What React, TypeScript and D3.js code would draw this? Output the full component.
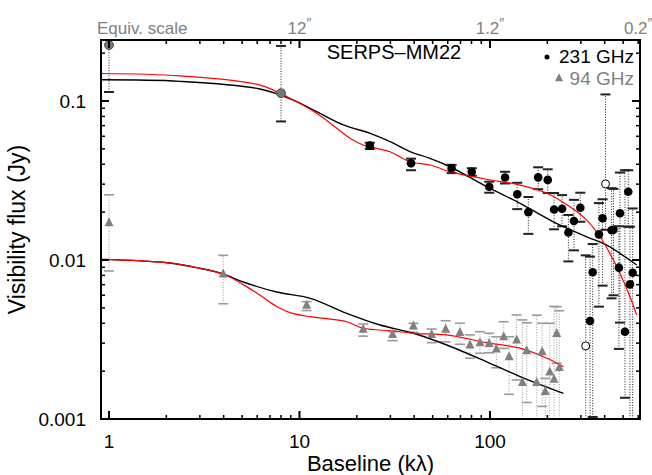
import React from "react";
import * as d3 from "d3";

const W = 652, H = 475;
const L = 101, R = 640, T = 40, B = 419;

// baseline (kλ), flux (Jy), lower, upper
const pts231: number[][] = [
  [23.4, 0.0524, 0.0499, 0.0547],
  [38.5, 0.0406, 0.0367, 0.0434],
  [62.9, 0.0378, 0.0352, 0.0397],
  [80.2, 0.0359, 0.0339, 0.0378],
  [99.1, 0.0289, 0.0265, 0.0311],
  [120, 0.0330, 0.0303, 0.0359],
  [139, 0.0259, 0.0209, 0.0306],
  [159, 0.0200, 0.0146, 0.0249],
  [179, 0.0331, 0.0279, 0.0383],
  [201, 0.0319, 0.0264, 0.0372],
  [217, 0.0208, 0.0156, 0.0264],
  [239, 0.0210, 0.0163, 0.0256],
  [258, 0.0149, 0.0098, 0.0192],
  [276, 0.0176, 0.0115, 0.0239],
  [298, 0.0213, 0.0174, 0.0265],
  [335, 0.00413, 0.0008, 0.0105],
  [346, 0.00837, 0.00103, 0.0126],
  [373, 0.0145, 0.00509, 0.0228],
  [390, 0.0183, 0.0069, 0.0241],
  [435, 0.0154, 0.00574, 0.0283],
  [445, 0.0155, 0.0060, 0.0280],
  [475, 0.00895, 0.00276, 0.0163],
  [481, 0.0197, 0.00404, 0.0355],
  [511, 0.00354, 0.00136, 0.0367],
  [532, 0.0269, 0.0162, 0.0367],
  [543, 0.00703, 0.0008, 0.0162],
  [561, 0.00832, 0.0008, 0.0211],
];
const open231: number[][] = [
  [318, 0.00288, 0.0008, 0.0107],
  [404, 0.0301, 0.0155, 0.110],
];
const short231: number[][] = [
  [1.0, 0.225, 0.114, 0.40],
  [8.0, 0.112, 0.0744, 0.222],
];
const pts94: number[][] = [
  [1.0, 0.0172, 0.00853, 0.0257],
  [3.98, 0.00817, 0.00531, 0.0107],
  [10.9, 0.00521, 0.00481, 0.00547],
  [21.6, 0.00367, 0.00332, 0.00396],
  [30.8, 0.00341, 0.00311, 0.00354],
  [39.6, 0.00385, 0.00351, 0.00400],
  [49.4, 0.00341, 0.00302, 0.00368],
  [58.5, 0.00368, 0.00306, 0.00415],
  [69.5, 0.00351, 0.00295, 0.00400],
  [78.5, 0.00292, 0.00241, 0.00338],
  [88.6, 0.00302, 0.00259, 0.00354],
  [99, 0.00299, 0.00261, 0.00346],
  [108, 0.00276, 0.00210, 0.00329],
  [118, 0.00330, 0.00278, 0.00409],
  [126, 0.00247, 0.00143, 0.00329],
  [138, 0.00314, 0.00176, 0.00451],
  [148, 0.00170, 0.0008, 0.00420],
  [156, 0.00269, 0.00127, 0.00403],
  [176, 0.00170, 0.0008, 0.00450],
  [188, 0.00265, 0.0012, 0.00400],
  [195, 0.00149, 0.0008, 0.00180],
  [206, 0.00198, 0.0008, 0.00400],
  [217, 0.00178, 0.0008, 0.00510],
  [224, 0.00346, 0.00224, 0.00509],
  [231, 0.00211, 0.0008, 0.00480],
];

// model curves
const modelBlack231: number[][] = [
  [0.908, 0.136], [2.36, 0.133], [6.2, 0.119], [9.28, 0.1014], [12.3, 0.0857],
  [17.0, 0.0707], [23.5, 0.0626], [29.9, 0.0555], [38.0, 0.0480], [48.4, 0.0436],
  [61.7, 0.0386], [96.1, 0.0289], [144, 0.0227], [215, 0.0174], [322, 0.0140],
  [410, 0.0124], [589, 0.0093],
];
const modelRed231: number[][] = [
  [0.908, 0.149], [2.36, 0.144], [6.2, 0.126], [9.28, 0.1014], [12.3, 0.0837],
  [15.7, 0.0674], [18.4, 0.0583], [21.6, 0.0529], [25.4, 0.0504], [29.9, 0.0480],
  [38.0, 0.0415], [48.4, 0.0396], [61.7, 0.0359], [69.6, 0.0347], [96.1, 0.0322],
  [144, 0.0296], [199, 0.0263], [263, 0.0216], [322, 0.0178], [378, 0.0140],
  [426, 0.0110], [481, 0.00825], [543, 0.00588], [589, 0.00451],
];
const modelBlack94: number[][] = [
  [0.905, 0.0101], [2.01, 0.00962], [3.0, 0.00887], [3.98, 0.00817], [5.07, 0.00727],
  [7.59, 0.00629], [11.4, 0.00574], [17.7, 0.00462], [26.5, 0.00390], [39.6, 0.00346],
  [59.3, 0.00292], [96.1, 0.00229], [144, 0.00185], [243, 0.00145],
];
const modelRed94: number[][] = [
  [0.905, 0.0101], [2.01, 0.00962], [3.0, 0.00887], [3.98, 0.00817], [5.07, 0.0070],
  [6.21, 0.0060], [7.59, 0.0051], [9.0, 0.00465], [11.4, 0.00440], [14.5, 0.00425],
  [17.7, 0.00409], [21.6, 0.00372], [31.1, 0.00358], [39.6, 0.00346], [59.3, 0.00338],
  [96.1, 0.00302], [144, 0.00279], [199, 0.00241], [243, 0.00213],
];

const xMajor = [1, 10, 100];
const xTickLabels = ["1", "10", "100"];
const yMajor = [0.001, 0.01, 0.1];
const yTickLabels = ["0.001", "0.01", "0.1"];
const topScaleAt = [10, 100, 600];
const topScaleLabels = ["12", "1.2", "0.2"];

const GRAY = "#808080";
const FONT = "'Liberation Sans', Arial, sans-serif";

export default function App() {
  const x = d3.scaleLog().domain([0.908, 613]).range([L, R]);
  const y = d3.scaleLog().domain([0.001, 0.242]).range([B, T]);

  const xMinor: number[] = [];
  for (const d of [1, 10, 100]) for (let k = 2; k <= 9; k++) { const v = d * k; if (v < 613) xMinor.push(v); }
  const yMinor: number[] = [];
  for (const d of [0.001, 0.01, 0.1]) for (let k = 2; k <= 9; k++) { const v = d * k; if (v < 0.242) yMinor.push(v); }

  const line = d3.line<number[]>().x(d => x(d[0])).y(d => y(d[1])).curve(d3.curveCatmullRom.alpha(0.5));

  const errBar = (d: number[], color: string, key: string, capW: number, capStroke: number) => {
    const cx = x(d[0]);
    const yl = y(Math.max(d[2], 0.0005));
    const yh = y(d[3]);
    return (
      <g key={key}>
        <line x1={cx} x2={cx} y1={yl} y2={yh} stroke={color} strokeWidth={1} strokeDasharray="1,1.6" />
        {d[2] >= 0.001 && <line x1={cx - capW / 2} x2={cx + capW / 2} y1={yl} y2={yl} stroke={color} strokeWidth={capStroke} />}
        {d[3] <= 0.242 && <line x1={cx - capW / 2} x2={cx + capW / 2} y1={yh} y2={yh} stroke={color} strokeWidth={capStroke} />}
      </g>
    );
  };

  const tri = (cx: number, cy: number, s: number) =>
    `M${cx},${cy - s * 0.6} L${cx + s / 2},${cy + s * 0.4} L${cx - s / 2},${cy + s * 0.4} Z`;

  return (
    <svg width={W} height={H} style={{ position: "absolute", left: 0, top: 0, background: "#fff" }} fontFamily={FONT}>
      <defs>
        <clipPath id="plotclip"><rect x={L} y={T} width={R - L} height={B - T} /></clipPath>
      </defs>
      <rect x={0} y={0} width={W} height={H} fill="#fff" />

      <g clipPath="url(#plotclip)">
        {pts94.map((d, i) => errBar(d, "#9a9a9a", "e94" + i, 10, 1.6))}
        {pts231.map((d, i) => errBar(d, "#222", "e231" + i, 10, 2))}
        {open231.map((d, i) => errBar(d, "#222", "eo" + i, 10, 2))}
        {short231.map((d, i) => errBar(d, "#222", "es" + i, 10, 2))}

        <path d={line(modelBlack231) || ""} fill="none" stroke="#000" strokeWidth={1.4} />
        <path d={line(modelRed231) || ""} fill="none" stroke="#ff0000" strokeWidth={1.2} />
        <path d={line(modelBlack94) || ""} fill="none" stroke="#000" strokeWidth={1.4} />
        <path d={line(modelRed94) || ""} fill="none" stroke="#ff0000" strokeWidth={1.2} />

        {pts94.map((d, i) => <path key={"t" + i} d={tri(x(d[0]), y(d[1]), 9)} fill={GRAY} />)}
        {pts231.map((d, i) => <circle key={"c" + i} cx={x(d[0])} cy={y(d[1])} r={4.3} fill="#000" />)}
        {open231.map((d, i) => <circle key={"o" + i} cx={x(d[0])} cy={y(d[1])} r={4} fill="#fff" stroke="#000" strokeWidth={1} />)}
        {short231.map((d, i) => <circle key={"s" + i} cx={x(d[0])} cy={y(d[1])} r={4.5} fill="#777" stroke="#555" strokeWidth={1} />)}
      </g>

      {/* frame */}
      <rect x={L} y={T} width={R - L} height={B - T} fill="none" stroke="#000" strokeWidth={2} />
      {xMajor.map(v => (
        <g key={"xm" + v}>
          <line x1={x(v)} x2={x(v)} y1={B} y2={B - 8} stroke="#000" strokeWidth={2} />
          <line x1={x(v)} x2={x(v)} y1={T} y2={T + 8} stroke="#000" strokeWidth={2} />
        </g>
      ))}
      {xMinor.map(v => (
        <g key={"xn" + v}>
          <line x1={x(v)} x2={x(v)} y1={B} y2={B - 4} stroke="#000" strokeWidth={1.5} />
          <line x1={x(v)} x2={x(v)} y1={T} y2={T + 4} stroke="#000" strokeWidth={1.5} />
        </g>
      ))}
      {yMajor.map(v => (
        <g key={"ym" + v}>
          <line x1={L} x2={L + 8} y1={y(v)} y2={y(v)} stroke="#000" strokeWidth={2} />
          <line x1={R} x2={R - 8} y1={y(v)} y2={y(v)} stroke="#000" strokeWidth={2} />
        </g>
      ))}
      {yMinor.map(v => (
        <g key={"yn" + v}>
          <line x1={L} x2={L + 4} y1={y(v)} y2={y(v)} stroke="#000" strokeWidth={1.5} />
          <line x1={R} x2={R - 4} y1={y(v)} y2={y(v)} stroke="#000" strokeWidth={1.5} />
        </g>
      ))}

      {/* tick labels */}
      {xMajor.map((v, i) => (
        <text key={"xl" + v} x={x(v)} y={448} textAnchor="middle" fontSize={19} fill="#000">{xTickLabels[i]}</text>
      ))}
      {yMajor.map((v, i) => (
        <text key={"yl" + v} x={86} y={y(v) + 7} textAnchor="end" fontSize={19} fill="#000">{yTickLabels[i]}</text>
      ))}
      <text x={(L + R) / 2} y={471} textAnchor="middle" fontSize={22} fill="#000">Baseline (kλ)</text>
      <text transform={`translate(25,${(T + B) / 2}) rotate(-90)`} textAnchor="middle" fontSize={23} fill="#000">Visibility flux (Jy)</text>

      {/* top equivalent scale */}
      <text x={L - 4} y={34} fontSize={17} fill={GRAY}>Equiv. scale</text>
      {topScaleAt.map((v, i) => (
        <text key={"ts" + v} x={x(v)} y={34} textAnchor="middle" fontSize={17} fill={GRAY}>
          {topScaleLabels[i]}<tspan dy={-6} fontSize={14}>″</tspan>
        </text>
      ))}

      {/* title */}
      <text x={394} y={59} textAnchor="middle" fontSize={20} fill="#000">SERPS–MM22</text>

      {/* legend */}
      <circle cx={547} cy={57} r={2.5} fill="#000" />
      <text x={634} y={63} textAnchor="end" fontSize={19} fill="#000">231 GHz</text>
      <path d={tri(559, 78, 8)} fill={GRAY} />
      <text x={634} y={85} textAnchor="end" fontSize={19} fill={GRAY}>94 GHz</text>
    </svg>
  );
}
